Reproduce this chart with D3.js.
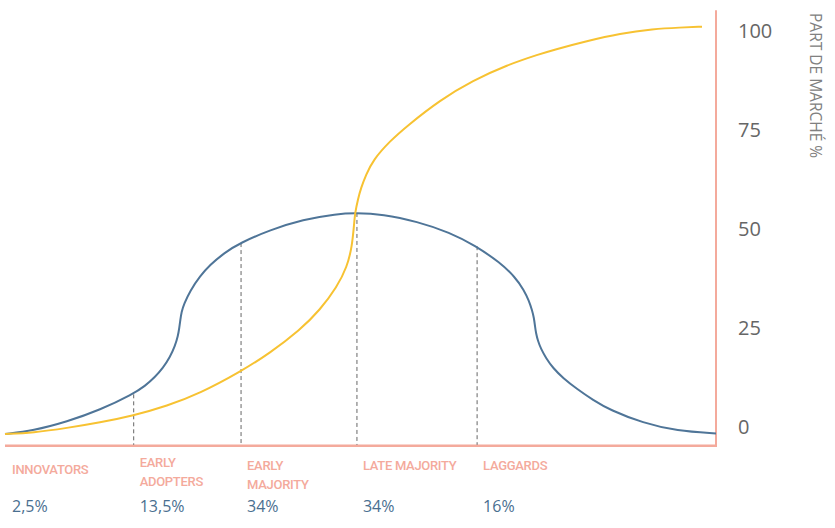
<!DOCTYPE html>
<html><head><meta charset="utf-8">
<script src="https://cdn.jsdelivr.net/npm/d3@7"></script>
<style>html,body{margin:0;padding:0;background:#fff;}svg{display:block;}</style>
</head><body>
<svg id="chart" width="835" height="528"></svg>
<script>
// ---- data ----
const bellX = [0, 3.94, 8.72, 13.36, 18.00, 19.69, 21.10, 22.22, 23.21, 23.91, 24.33, 24.51, 24.66, 24.82, 25.18, 26.02, 27.43, 28.83, 30.80, 33.05, 37.27, 41.91, 46.69, 49.23, 53.16, 57.95, 62.59, 66.10, 69.62, 71.73, 72.99, 73.70, 74.12, 74.40, 74.54, 74.68, 74.96, 75.39, 76.09, 77.07, 78.48, 80.45, 82.70, 85.09, 89.73, 94.51, 100];
const bellY = [-2.02, -1.19, 1.09, 4.04, 8.08, 10.10, 12.37, 14.65, 17.42, 20.20, 22.73, 24.75, 26.77, 28.79, 30.81, 34.09, 37.88, 40.66, 43.69, 46.21, 49.49, 52.15, 53.54, 53.79, 53.48, 51.64, 48.86, 45.58, 41.29, 37.63, 34.34, 31.57, 29.29, 27.27, 25.25, 23.48, 21.46, 19.44, 17.17, 14.65, 12.12, 9.34, 6.57, 4.04, 0.76, -1.26, -1.89];
const shareX = [0, 3.94, 8.72, 13.36, 18.00, 22.78, 27.43, 33.05, 37.27, 41.49, 44.30, 46.69, 48.10, 48.80, 49.09, 49.23, 49.65, 50.07, 50.77, 51.76, 54.15, 56.54, 61.18, 65.82, 70.60, 75.25, 77.07, 81.86, 86.50, 91.14, 94.94, 98.03];
const shareY = [-2.02, -1.69, -0.51, 0.88, 2.60, 5.05, 8.26, 13.64, 18.43, 24.24, 29.29, 35.10, 40.15, 45.20, 50.76, 53.79, 57.32, 60.10, 63.38, 67.17, 71.97, 75.76, 82.32, 87.25, 91.16, 93.94, 94.95, 97.22, 99.12, 100.25, 100.63, 100.83];
const boundaryX = [18.1, 33.2, 49.5, 66.4];
const boundaryTop = [8.0, 46.2, 53.8, 45.4];
const categories = [["INNOVATORS"], ["EARLY", "ADOPTERS"], ["EARLY", "MAJORITY"], ["LATE MAJORITY"], ["LAGGARDS"]];
const shares = ["2,5%", "13,5%", "34%", "34%", "16%"];
const yTicks = [0, 25, 50, 75, 100];
const yTitle = "PART DE MARCHÉ %";

// ---- layout ----
const svg = d3.select("#chart");
const x = d3.scaleLinear().domain([0, 100]).range([5, 716]);
const y = d3.scaleLinear().domain([0, 100]).range([426, 30]);
const pink = "#f4aa9c", blue = "#4f7598", yellow = "#f7c232";

// frame
svg.append("line").attr("x1", x(0)).attr("x2", x(100) + 1).attr("y1", y(-5)).attr("y2", y(-5))
  .attr("stroke", pink).attr("stroke-width", 2.5);
svg.append("line").attr("x1", x(100)).attr("x2", x(100)).attr("y1", y(105)).attr("y2", y(-5))
  .attr("stroke", pink).attr("stroke-width", 2);

// dashed boundaries
svg.selectAll(".bd").data(boundaryX).join("line").attr("class", "bd")
  .attr("x1", d => x(d)).attr("x2", d => x(d))
  .attr("y1", (d, i) => y(boundaryTop[i])).attr("y2", y(-5) - 1)
  .attr("stroke", "#666").attr("stroke-width", 1).attr("stroke-dasharray", "4,3");

const line = d3.line().curve(d3.curveBasis);
svg.append("path").attr("d", line(bellX.map((v, i) => [x(v), y(bellY[i])])))
  .attr("fill", "none").attr("stroke", blue).attr("stroke-width", 2);
svg.append("path").attr("d", line(shareX.map((v, i) => [x(v), y(shareY[i])])))
  .attr("fill", "none").attr("stroke", yellow).attr("stroke-width", 2);

// y axis labels
svg.selectAll(".yt").data(yTicks).join("text").attr("class", "yt")
  .attr("x", 738).attr("y", d => y(d)).attr("dominant-baseline", "central")
  .attr("font-family", "'Open Sans', sans-serif").attr("font-size", 20).attr("fill", "#666")
  .text(d => d);
svg.append("text").attr("transform", "translate(810,13) rotate(90)")
  .attr("font-family", "'Open Sans', sans-serif").attr("font-size", 15.5).attr("fill", "#808080")
  .text(yTitle);

// category labels
const labelX = [0, ...boundaryX];
const labelBase = [474, 467, 470, 470, 470];
const cat = svg.selectAll(".cat").data(categories).join("text").attr("class", "cat")
  .attr("font-family", "Roboto, sans-serif").attr("font-weight", 500).attr("font-size", 13)
  .attr("letter-spacing", "-0.3px").attr("fill", pink);
cat.each(function (lines, i) {
  d3.select(this).selectAll("tspan").data(lines).join("tspan")
    .attr("x", x(labelX[i]) + (i ? 6 : 7)).attr("y", (d, j) => labelBase[i] + j * 19).text(d => d);
});
svg.selectAll(".pct").data(shares).join("text").attr("class", "pct")
  .attr("x", (d, i) => x(labelX[i]) + (i ? 6 : 7)).attr("y", 512)
  .attr("font-family", "'Open Sans', sans-serif").attr("font-size", 16).attr("fill", "#4a6f90")
  .text(d => d);
</script>
</body></html>
